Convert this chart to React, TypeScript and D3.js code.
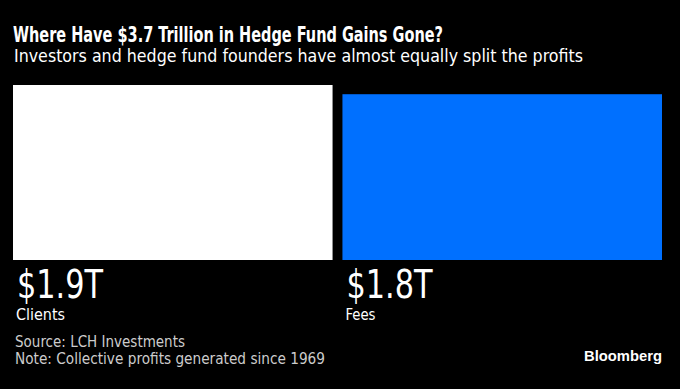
import * as d3 from "d3"

const categories = ["Clients", "Fees"]
const values = [1.9, 1.8]
const valueLabels = ["$1.9T", "$1.8T"]
const colors = ["#ffffff", "#0070ff"]

const W = 680
const H = 389
const font = "'DejaVu Sans Condensed', 'DejaVu Sans', sans-serif"

export default function App() {
  const x = d3.scaleBand<string>()
    .domain(categories)
    .range([13, 662])
    .paddingInner(0.03)

  const bottom = 260
  const y = d3.scaleLinear()
    .domain([0, 1.9])
    .range([bottom, 85])

  return (
    <svg width={W} height={H} style={{ position: "absolute", left: 0, top: 0, background: "#000" }}>
      <rect x={0} y={0} width={W} height={H} fill="#000" />
      <text x={13} y={42} fill="#fff" fontFamily={font} fontWeight="bold" fontSize={21}
        textLength={430} lengthAdjust="spacingAndGlyphs">
        Where Have $3.7 Trillion in Hedge Fund Gains Gone?
      </text>
      <text x={14} y={62} fill="#fff" fontFamily={font} fontSize={17}
        textLength={569} lengthAdjust="spacingAndGlyphs">
        Investors and hedge fund founders have almost equally split the profits
      </text>

      {categories.map((c, i) => (
        <g key={c}>
          <rect
            x={x(c)}
            y={y(values[i])}
            width={x.bandwidth()}
            height={bottom - y(values[i])}
            fill={colors[i]}
          />
          <text x={(x(c) ?? 0) + 4} y={298} fill="#fff" fontFamily={font} fontSize={39}
            textLength={86} lengthAdjust="spacingAndGlyphs">
            {valueLabels[i]}
          </text>
          <text x={(x(c) ?? 0) + 3} y={320} fill="#fff" fontFamily={font} fontSize={16}
            textLength={c === "Clients" ? 49 : 30} lengthAdjust="spacingAndGlyphs">
            {c}
          </text>
        </g>
      ))}

      <text x={15} y={347} fill="#ccc" fontFamily={font} fontSize={15}
        textLength={170} lengthAdjust="spacingAndGlyphs">
        Source: LCH Investments
      </text>
      <text x={15} y={364} fill="#ccc" fontFamily={font} fontSize={15}
        textLength={310} lengthAdjust="spacingAndGlyphs">
        Note: Collective profits generated since 1969
      </text>
      <text x={662} y={361} textAnchor="end" fill="#fff" fontFamily="'Liberation Sans', Arial, sans-serif" fontWeight="bold" fontSize={15}
        textLength={78} lengthAdjust="spacingAndGlyphs">
        Bloomberg
      </text>
    </svg>
  )
}
